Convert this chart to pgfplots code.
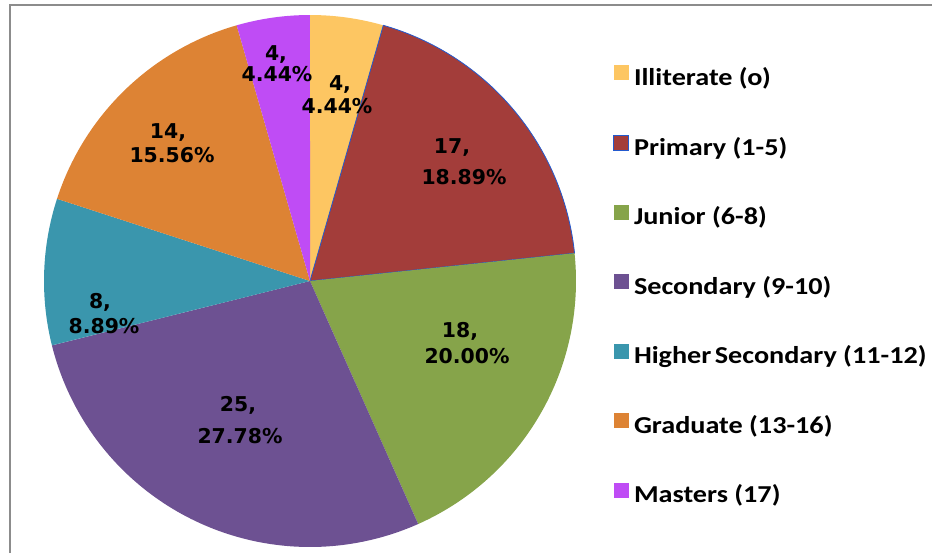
\documentclass[border=0pt]{standalone}
\usepackage{fontspec}
\newfontfamily\labfont{DejaVu Sans}
\newfontfamily\legfont[FakeStretch=1.16]{Carlito}
\usepackage{pgfplots}
\pgfplotsset{compat=1.18}

\definecolor{cIll}{HTML}{FDC662}
\definecolor{cPri}{HTML}{A33D3A}
\definecolor{cJun}{HTML}{86A44A}
\definecolor{cSec}{HTML}{6D5192}
\definecolor{cHig}{HTML}{3A96AD}
\definecolor{cGra}{HTML}{DD8334}
\definecolor{cMas}{HTML}{BF4CF5}
\definecolor{frame}{HTML}{8C8C8C}

% counts: 4, 17, 18, 25, 8, 14, 4 (total 90 -> 4 degrees each), clockwise from 12 o'clock
\newcommand{\slice}[3]{%
  \addplot[#3, domain=#1:#2, samples=90, variable=\t]
    ({310+266*sin(\t)}, {281-266*cos(\t)}) -- (axis cs:310,281) -- cycle;}
% two-line data label: x1, baseline1, x2, baseline2, count, percent
\newcommand{\lab}[6]{%
  \node[anchor=base] at (axis cs:#1,#2)
    {\fontsize{20.4}{24}\selectfont\labfont\bfseries #5,};
  \node[anchor=base] at (axis cs:#3,#4)
    {\fontsize{20.4}{24}\selectfont\labfont\bfseries #6\%};}

\begin{document}
\begin{tikzpicture}
\begin{axis}[
  width=934pt, height=553pt, scale only axis,
  xmin=0, xmax=934, ymin=0, ymax=553, y dir=reverse,
  hide axis, clip=false,
  legend style={at={(axis cs:613,65)}, anchor=north west, draw=none, fill=none,
    inner sep=0pt, row sep=43.5pt,
    font=\legfont\bfseries\fontsize{24.3}{27}\selectfont,
    nodes={inner sep=0pt, text height=16pt, text depth=6pt},
    column sep=5pt},
  legend cell align=left,
  legend image code/.code={\path[#1] (0pt,0pt) rectangle (15pt,15pt);},
]
\path (axis cs:0,0) rectangle (axis cs:934,553);
\draw[frame, line width=2.4pt] (axis cs:10,553) -- (axis cs:10,5) -- (axis cs:932,5);

\slice{0}{16}{fill=cIll, draw=none}
\addlegendentry{Illiterate (o)}
\slice{16}{84}{fill=cPri, draw=cHig!60!blue, line width=0.8pt}
\addlegendentry{Primary (1-5)}
\slice{84}{156}{fill=cJun, draw=none}
\addlegendentry{Junior (6-8)}
\slice{156}{256}{fill=cSec, draw=none}
\addlegendentry{Secondary (9-10)}
\slice{256}{288}{fill=cHig, draw=none}
\addlegendentry{Higher\kern-0.12em\ Secondary (11-12)}
\slice{288}{344}{fill=cGra, draw=none}
\addlegendentry{Graduate (13-16)}
\slice{344}{360}{fill=cMas, draw=none}
\addlegendentry{Masters (17)}

\lab{340}{90}{337}{113}{4}{4.44}
\lab{452}{153}{464}{184}{17}{18.89}
\lab{460}{337}{467}{363}{18}{20.00}
\lab{238}{411}{240}{443}{25}{27.78}
\lab{100}{308}{104}{333}{8}{8.89}
\lab{168}{138}{172}{162}{14}{15.56}
\lab{276}{60}{277}{81}{4}{4.44}
\end{axis}
\end{tikzpicture}
\end{document}
